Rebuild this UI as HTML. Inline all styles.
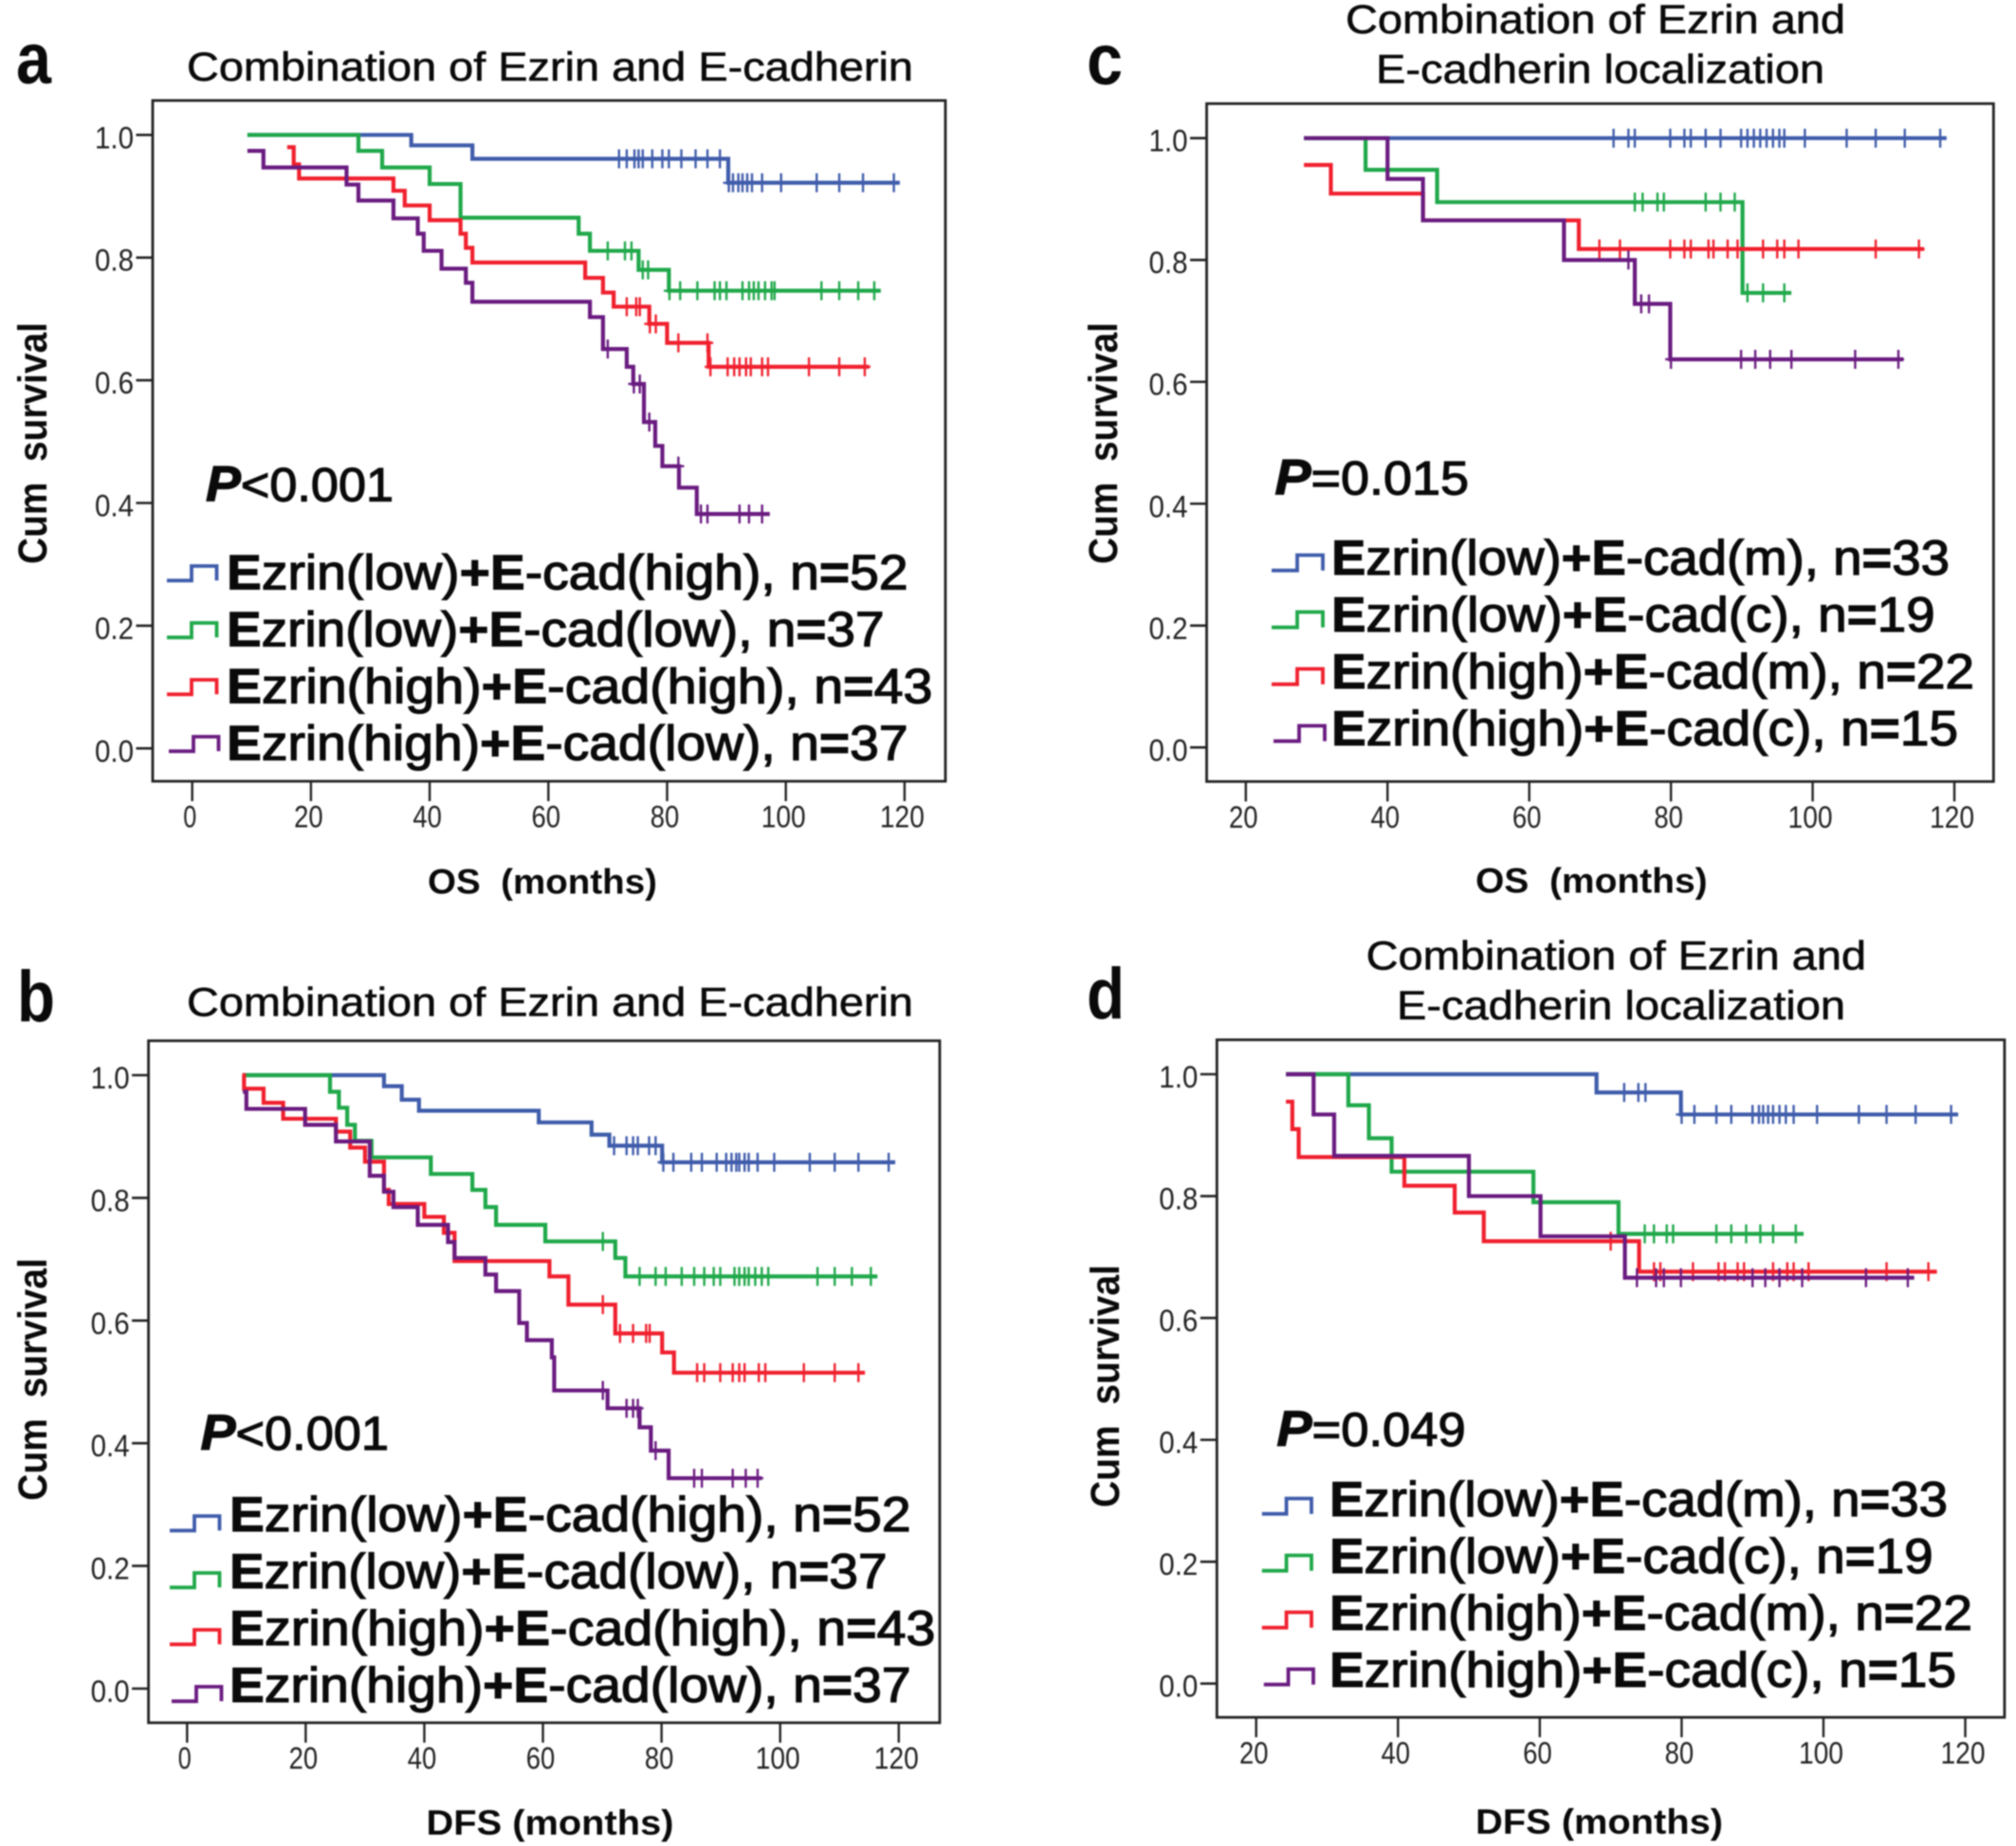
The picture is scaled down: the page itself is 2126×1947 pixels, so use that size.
<!DOCTYPE html>
<html lang="en">
<head>
<meta charset="utf-8">
<title>Kaplan-Meier survival curves for Ezrin and E-cadherin</title>
<style>
html,body{margin:0;padding:0;background:#fff;}
#figure{display:block;width:2126px;height:1947px;filter:blur(0.8px);}
text{font-family:"Liberation Sans",Arial,sans-serif;fill:#0a0a0a;}
.letter{font-weight:700;font-size:76px;}
.title{font-size:43px;stroke:#0a0a0a;stroke-width:0.6px;}
.legend{font-size:52px;font-weight:400;stroke:#0a0a0a;stroke-width:1.3px;}
.legend .hv{font-weight:700;stroke-width:1px;}
.pval{font-size:50px;font-weight:400;stroke:#0a0a0a;stroke-width:1.2px;}
.pval .it{font-style:italic;font-weight:700;font-size:53px;}
.xtitle{font-size:37px;font-weight:700;}
.ytitle{font-size:43px;font-weight:700;}
.tick{font-size:32px;fill:#222;}
.frame{fill:none;stroke:#222;stroke-width:2.8;}
.icon{fill:none;stroke-width:3.8;}
</style>
</head>
<body>
<svg id="figure" xmlns="http://www.w3.org/2000/svg" width="2126" height="1947" viewBox="0 0 2126 1947">
<rect x="0" y="0" width="2126" height="1947" fill="#fff"/>

<g id="panel-a">
<text class="letter" x="17" y="88" textLength="37" lengthAdjust="spacingAndGlyphs">a</text>
<text class="title" x="197" y="85" textLength="766" lengthAdjust="spacingAndGlyphs">Combination of Ezrin and E-cadherin</text>
<rect class="frame" x="161" y="106" width="836" height="718"/>
<text class="ytitle" transform="translate(49,595) rotate(-90)" x="0" y="0" textLength="255" lengthAdjust="spacingAndGlyphs" xml:space="preserve">Cum  survival</text>
<text class="xtitle" x="451" y="942.7" textLength="242" lengthAdjust="spacingAndGlyphs" xml:space="preserve">OS  (months)</text>
<text class="pval" x="217" y="528.3" textLength="198" lengthAdjust="spacingAndGlyphs"><tspan class="it">P</tspan><tspan>&lt;0.001</tspan></text>
<g>
<polyline class="icon" stroke="#3f5cab" points="176,612.3 202,612.3 202,597 228.5,597 228.5,612.3"/>
<text class="legend" x="239" y="621.7" textLength="718.6" lengthAdjust="spacingAndGlyphs"><tspan class="hv">E</tspan>zrin(low)<tspan class="hv">+E</tspan>-cad(high), n<tspan class="hv">=</tspan>52</text>
<polyline class="icon" stroke="#1fa84a" points="176,672.3 202,672.3 202,657 228.5,657 228.5,672.3"/>
<text class="legend" x="239" y="681.7" textLength="693.6" lengthAdjust="spacingAndGlyphs"><tspan class="hv">E</tspan>zrin(low)<tspan class="hv">+E</tspan>-cad(low), n<tspan class="hv">=</tspan>37</text>
<polyline class="icon" stroke="#f0202e" points="176,732.3 202,732.3 202,717 228.5,717 228.5,732.3"/>
<text class="legend" x="239" y="741.7" textLength="744.4" lengthAdjust="spacingAndGlyphs"><tspan class="hv">E</tspan>zrin(high)<tspan class="hv">+E</tspan>-cad(high), n<tspan class="hv">=</tspan>43</text>
<polyline class="icon" stroke="#6a1b80" points="178,792.3 204,792.3 204,777 230.5,777 230.5,792.3"/>
<text class="legend" x="239" y="801.7" textLength="718.6" lengthAdjust="spacingAndGlyphs"><tspan class="hv">E</tspan>zrin(high)<tspan class="hv">+E</tspan>-cad(low), n<tspan class="hv">=</tspan>37</text>
</g>
</g>

<g id="panel-b">
<text class="letter" x="18" y="1077" textLength="40" lengthAdjust="spacingAndGlyphs">b</text>
<text class="title" x="197" y="1071.7" textLength="766" lengthAdjust="spacingAndGlyphs">Combination of Ezrin and E-cadherin</text>
<rect class="frame" x="156.6" y="1097.7" width="834.4" height="719.3"/>
<text class="ytitle" transform="translate(49,1582.7) rotate(-90)" x="0" y="0" textLength="255.7" lengthAdjust="spacingAndGlyphs" xml:space="preserve">Cum  survival</text>
<text class="xtitle" x="449.5" y="1935" textLength="261" lengthAdjust="spacingAndGlyphs" xml:space="preserve">DFS (months)</text>
<text class="pval" x="211.5" y="1529" textLength="198.5" lengthAdjust="spacingAndGlyphs"><tspan class="it">P</tspan><tspan>&lt;0.001</tspan></text>
<g>
<polyline class="icon" stroke="#3f5cab" points="179,1614.3 205,1614.3 205,1599 231.5,1599 231.5,1614.3"/>
<text class="legend" x="242" y="1615" textLength="718.6" lengthAdjust="spacingAndGlyphs"><tspan class="hv">E</tspan>zrin(low)<tspan class="hv">+E</tspan>-cad(high), n<tspan class="hv">=</tspan>52</text>
<polyline class="icon" stroke="#1fa84a" points="179,1674.3 205,1674.3 205,1659 231.5,1659 231.5,1674.3"/>
<text class="legend" x="242" y="1675" textLength="693.6" lengthAdjust="spacingAndGlyphs"><tspan class="hv">E</tspan>zrin(low)<tspan class="hv">+E</tspan>-cad(low), n<tspan class="hv">=</tspan>37</text>
<polyline class="icon" stroke="#f0202e" points="179,1734.3 205,1734.3 205,1719 231.5,1719 231.5,1734.3"/>
<text class="legend" x="242" y="1735" textLength="744.4" lengthAdjust="spacingAndGlyphs"><tspan class="hv">E</tspan>zrin(high)<tspan class="hv">+E</tspan>-cad(high), n<tspan class="hv">=</tspan>43</text>
<polyline class="icon" stroke="#6a1b80" points="181,1794.3 207,1794.3 207,1779 233.5,1779 233.5,1794.3"/>
<text class="legend" x="242" y="1795" textLength="718.6" lengthAdjust="spacingAndGlyphs"><tspan class="hv">E</tspan>zrin(high)<tspan class="hv">+E</tspan>-cad(low), n<tspan class="hv">=</tspan>37</text>
</g>
</g>

<g id="panel-c">
<text class="letter" x="1146" y="89" textLength="38" lengthAdjust="spacingAndGlyphs">c</text>
<text class="title" x="1419" y="35" textLength="527" lengthAdjust="spacingAndGlyphs">Combination of Ezrin and</text>
<text class="title" x="1451" y="87.3" textLength="473" lengthAdjust="spacingAndGlyphs">E-cadherin localization</text>
<rect class="frame" x="1272.5" y="109.3" width="829.8" height="715"/>
<text class="ytitle" transform="translate(1178,595) rotate(-90)" x="0" y="0" textLength="255" lengthAdjust="spacingAndGlyphs" xml:space="preserve">Cum  survival</text>
<text class="xtitle" x="1556" y="941.7" textLength="244.6" lengthAdjust="spacingAndGlyphs" xml:space="preserve">OS  (months)</text>
<text class="pval" x="1344.4" y="521.7" textLength="204.6" lengthAdjust="spacingAndGlyphs"><tspan class="it">P</tspan><tspan>=0.015</tspan></text>
<g>
<polyline class="icon" stroke="#3f5cab" points="1341,601.7 1368,601.7 1368,585.5 1395,585.5 1395,601.7"/>
<text class="legend" x="1404" y="606" textLength="652" lengthAdjust="spacingAndGlyphs"><tspan class="hv">E</tspan>zrin(low)<tspan class="hv">+E</tspan>-cad(m), n<tspan class="hv">=</tspan>33</text>
<polyline class="icon" stroke="#1fa84a" points="1341,661.7 1368,661.7 1368,645.5 1395,645.5 1395,661.7"/>
<text class="legend" x="1404" y="666" textLength="636.6" lengthAdjust="spacingAndGlyphs"><tspan class="hv">E</tspan>zrin(low)<tspan class="hv">+E</tspan>-cad(c), n<tspan class="hv">=</tspan>19</text>
<polyline class="icon" stroke="#f0202e" points="1341,721.7 1368,721.7 1368,705.5 1395,705.5 1395,721.7"/>
<text class="legend" x="1404" y="726" textLength="678" lengthAdjust="spacingAndGlyphs"><tspan class="hv">E</tspan>zrin(high)<tspan class="hv">+E</tspan>-cad(m), n<tspan class="hv">=</tspan>22</text>
<polyline class="icon" stroke="#6a1b80" points="1343,781.7 1370,781.7 1370,765.5 1397,765.5 1397,781.7"/>
<text class="legend" x="1404" y="786" textLength="661" lengthAdjust="spacingAndGlyphs"><tspan class="hv">E</tspan>zrin(high)<tspan class="hv">+E</tspan>-cad(c), n<tspan class="hv">=</tspan>15</text>
</g>
</g>

<g id="panel-d">
<text class="letter" x="1146" y="1074" textLength="40" lengthAdjust="spacingAndGlyphs">d</text>
<text class="title" x="1440.6" y="1022.3" textLength="527.4" lengthAdjust="spacingAndGlyphs">Combination of Ezrin and</text>
<text class="title" x="1473" y="1075" textLength="473" lengthAdjust="spacingAndGlyphs">E-cadherin localization</text>
<rect class="frame" x="1283.3" y="1096.7" width="830.6" height="714.6"/>
<text class="ytitle" transform="translate(1180,1590) rotate(-90)" x="0" y="0" textLength="256" lengthAdjust="spacingAndGlyphs" xml:space="preserve">Cum  survival</text>
<text class="xtitle" x="1556" y="1934" textLength="261" lengthAdjust="spacingAndGlyphs" xml:space="preserve">DFS (months)</text>
<text class="pval" x="1346.4" y="1525" textLength="199.3" lengthAdjust="spacingAndGlyphs"><tspan class="it">P</tspan><tspan>=0.049</tspan></text>
<g>
<polyline class="icon" stroke="#3f5cab" points="1330.8,1596.7 1356.6,1596.7 1356.6,1580.5 1383,1580.5 1383,1596.7"/>
<text class="legend" x="1402" y="1599" textLength="652" lengthAdjust="spacingAndGlyphs"><tspan class="hv">E</tspan>zrin(low)<tspan class="hv">+E</tspan>-cad(m), n<tspan class="hv">=</tspan>33</text>
<polyline class="icon" stroke="#1fa84a" points="1330.8,1656.7 1356.6,1656.7 1356.6,1640.5 1383,1640.5 1383,1656.7"/>
<text class="legend" x="1402" y="1659" textLength="636.6" lengthAdjust="spacingAndGlyphs"><tspan class="hv">E</tspan>zrin(low)<tspan class="hv">+E</tspan>-cad(c), n<tspan class="hv">=</tspan>19</text>
<polyline class="icon" stroke="#f0202e" points="1330.8,1716.7 1356.6,1716.7 1356.6,1700.5 1383,1700.5 1383,1716.7"/>
<text class="legend" x="1402" y="1719" textLength="678" lengthAdjust="spacingAndGlyphs"><tspan class="hv">E</tspan>zrin(high)<tspan class="hv">+E</tspan>-cad(m), n<tspan class="hv">=</tspan>22</text>
<polyline class="icon" stroke="#6a1b80" points="1332.8,1776.7 1358.6,1776.7 1358.6,1760.5 1385,1760.5 1385,1776.7"/>
<text class="legend" x="1402" y="1779" textLength="661" lengthAdjust="spacingAndGlyphs"><tspan class="hv">E</tspan>zrin(high)<tspan class="hv">+E</tspan>-cad(c), n<tspan class="hv">=</tspan>15</text>
</g>
</g>
</svg>

<script>
// Tick labels
const yTickValues = [0, 0.2, 0.4, 0.6, 0.8, 1.0];
const xTicksFromZero = [0, 20, 40, 60, 80, 100, 120];
const xTicksFromTwenty = [20, 40, 60, 80, 100, 120];

// Each curve: times (level starts, then end of follow-up), survival levels, censoring times.
// Panel a
const aBlueTimes = [9.3, 36.9, 47.2, 90.3, 119.2];
const aBlueSurvival = [1.0, 0.983, 0.961, 0.922];
const aBlueCensored = [71.9, 73.2, 74.5, 75.2, 75.9, 77.5, 79.2, 80.3, 82.4, 84.8, 86.8, 88.9, 90.4, 91.1, 92, 92.7, 93.5, 94.3, 96, 99.2, 105.2, 109, 113, 118.2];
const aGreenTimes = [9.3, 28, 32, 40, 45.2, 65.1, 67, 75.2, 80.3, 116];
const aGreenSurvival = [1.0, 0.974, 0.947, 0.92, 0.865, 0.839, 0.811, 0.78, 0.746];
const aGreenCensored = [70, 72.9, 74, 75.9, 76.8, 80.4, 82.2, 85.1, 88, 88.9, 90, 92.7, 93.8, 94.6, 95.4, 96.5, 97.6, 98.1, 106, 109, 112.2, 114.9];
const aRedTimes = [16, 17.1, 18, 33.9, 35.8, 40, 45.2, 46.1, 47.2, 66.2, 69.2, 71, 77, 80, 87, 114];
const aRedSurvival = [0.98, 0.952, 0.929, 0.909, 0.885, 0.861, 0.839, 0.816, 0.792, 0.767, 0.743, 0.72, 0.692, 0.661, 0.622];
const aRedCensored = [73.2, 74.8, 75.4, 77.1, 78.1, 81.9, 86.8, 87.3, 90.2, 91.3, 92.2, 93.3, 94.1, 96, 97, 103.9, 109, 113.3];
const aPurpleTimes = [9.3, 12, 26, 28, 33.9, 38, 39, 42, 46.1, 47.2, 67, 69.2, 73.2, 74.3, 76.1, 78, 79.2, 82, 85, 97.3];
const aPurpleSurvival = [0.974, 0.947, 0.919, 0.893, 0.864, 0.839, 0.811, 0.782, 0.759, 0.728, 0.703, 0.651, 0.622, 0.594, 0.532, 0.493, 0.46, 0.425, 0.382];
const aPurpleCensored = [70, 74.4, 75.4, 77, 81.9, 85.7, 86.8, 92.2, 93.8, 96];

// Panel b
const bBlueTimes = [9.4, 33.2, 36.2, 39.1, 59.3, 68.2, 71.2, 80.1, 119.4];
const bBlueSurvival = [1.0, 0.982, 0.96, 0.942, 0.923, 0.903, 0.885, 0.858];
const bBlueCensored = [72, 74.1, 75.2, 76, 77.9, 79, 80.3, 82, 85, 86.8, 89.3, 90.9, 91.8, 92.6, 93.1, 94, 94.7, 96.2, 99, 105, 109.2, 113.2, 118.3];
const bGreenTimes = [9.4, 24.1, 25.6, 27, 28.3, 31.1, 41.1, 48.1, 50.3, 52.1, 60.4, 72.2, 73.9, 116.4];
const bGreenSurvival = [1.0, 0.973, 0.947, 0.919, 0.893, 0.866, 0.839, 0.813, 0.785, 0.756, 0.729, 0.702, 0.672];
const bGreenCensored = [70.1, 76.3, 79, 80.7, 83.4, 85.5, 87.2, 88.8, 89.9, 92.3, 93.1, 94, 94.7, 95.8, 96.9, 98, 106.3, 109.2, 112.1, 115.3];
const bRedTimes = [9.3, 9.6, 12.9, 16.2, 25.1, 27.5, 30, 33.2, 34, 40, 43.3, 45.1, 61.1, 64.3, 72.2, 80.1, 82.1, 114.3];
const bRedSurvival = [1.0, 0.978, 0.955, 0.929, 0.908, 0.882, 0.859, 0.813, 0.79, 0.769, 0.743, 0.697, 0.672, 0.626, 0.579, 0.548, 0.515];
const bRedCensored = [70.1, 73, 75.2, 77.4, 78, 86, 87.2, 89.9, 92, 93.1, 94, 96.4, 97.5, 104, 109.2, 113.2];
const bPurpleTimes = [9.4, 10, 19.9, 25.1, 30.8, 33.2, 34.8, 38.9, 44, 45.1, 50.3, 52.1, 56, 57.3, 61.5, 61.9, 70.9, 76.3, 78.2, 81.2, 96.9];
const bPurpleSurvival = [0.973, 0.945, 0.919, 0.892, 0.836, 0.81, 0.785, 0.756, 0.728, 0.702, 0.675, 0.648, 0.596, 0.568, 0.54, 0.486, 0.457, 0.426, 0.388, 0.343];
const bPurpleCensored = [70.1, 74.1, 75.2, 76, 79, 85.5, 86.8, 92, 94.2, 96.2];

// Panel c
const cBlueTimes = [28.2, 118.9];
const cBlueSurvival = [1.0];
const cBlueCensored = [71.9, 74, 74.9, 79.9, 81.9, 82.8, 84.9, 87, 89.9, 90.8, 91.7, 92.6, 93.5, 94.4, 95.3, 96, 98.9, 104.8, 108.9, 113, 118];
const cGreenTimes = [28.2, 36.9, 47, 90.1, 97];
const cGreenSurvival = [1.0, 0.948, 0.895, 0.746];
const cGreenCensored = [74.9, 76, 78.1, 79, 84.9, 87, 89, 90.8, 93, 96];
const cRedTimes = [28.2, 32, 45, 67, 115.7];
const cRedSurvival = [0.956, 0.909, 0.865, 0.818];
const cRedCensored = [69.9, 72.8, 79.9, 81.9, 82.8, 85.3, 86, 88, 89.4, 93, 95, 96, 98, 108.9, 115];
const cPurpleTimes = [28.2, 40, 45, 64.9, 74.9, 79.9, 112.8];
const cPurpleSurvival = [1.0, 0.933, 0.865, 0.8, 0.728, 0.637];
const cPurpleCensored = [74, 75.8, 76.9, 80, 89.9, 91.9, 94, 97, 106, 112.1];

// Panel d
const dBlueTimes = [24.2, 68, 79.9, 119];
const dBlueSurvival = [1.0, 0.97, 0.934];
const dBlueCensored = [71.9, 73.9, 74.9, 80, 81.8, 84.9, 87, 90, 90.9, 91.5, 92.2, 92.9, 93.8, 94.7, 95.8, 99.1, 105, 108.9, 113, 118];
const dGreenTimes = [24.2, 33, 35.9, 39.1, 59.1, 71.1, 97.2];
const dGreenSurvival = [1.0, 0.949, 0.895, 0.84, 0.79, 0.738];
const dGreenCensored = [74.8, 76.1, 77.9, 78.8, 84.9, 87, 89.1, 91.1, 92.9, 96.1];
const dRedTimes = [24.2, 25.1, 26, 40.9, 48, 52.1, 74, 116];
const dRedSurvival = [0.955, 0.91, 0.864, 0.817, 0.773, 0.726, 0.676];
const dRedCensored = [70, 76.1, 77, 81.6, 85.2, 86.1, 87.9, 88.8, 92.9, 94.9, 95.8, 97.9, 108.9, 114.8];
const dPurpleTimes = [24.2, 28.1, 31, 50, 60.1, 72, 112.8];
const dPurpleSurvival = [1.0, 0.934, 0.866, 0.8, 0.734, 0.666];
const dPurpleCensored = [73.7, 76.4, 77.5, 79.9, 90, 91.8, 93.8, 97, 106, 111.9];

const SVG_NS = 'http://www.w3.org/2000/svg';
const BLUE = '#3f5cab', GREEN = '#1fa84a', RED = '#f0202e', PURPLE = '#6a1b80';

function linearScale(d0, d1, p0, p1) {
  return function (v) { return p0 + (v - d0) * (p1 - p0) / (d1 - d0); };
}

function levelAt(times, survival, t) {
  let level = survival[0];
  for (let i = 0; i < survival.length; i++) {
    if (t >= times[i]) level = survival[i];
  }
  return level;
}

function drawAxes(group, id, xTicks, xScale, yScale, frameLeft, frameBottom) {
  yTickValues.forEach(function (v) {
    const y = yScale(v);
    const line = document.createElementNS(SVG_NS, 'line');
    
    
    line.setAttribute('x1', frameLeft - 17.5);
    line.setAttribute('x2', frameLeft);
    line.setAttribute('y1', y);
    line.setAttribute('y2', y);
    line.setAttribute('stroke', '#222');
    line.setAttribute('stroke-width', '2.6');
    group.appendChild(line);
    const label = document.createElementNS(SVG_NS, 'text');
    
    
    label.setAttribute('class', 'tick');
    label.setAttribute('x', frameLeft - 61);
    label.setAttribute('y', y + 14);
    label.setAttribute('textLength', '41');
    label.setAttribute('lengthAdjust', 'spacingAndGlyphs');
    label.textContent = v.toFixed(1);
    group.appendChild(label);
  });
  xTicks.forEach(function (v) {
    const x = xScale(v);
    const line = document.createElementNS(SVG_NS, 'line');
    
    
    line.setAttribute('x1', x);
    line.setAttribute('x2', x);
    line.setAttribute('y1', frameBottom);
    line.setAttribute('y2', frameBottom + 21);
    line.setAttribute('stroke', '#222');
    line.setAttribute('stroke-width', '2.4');
    group.appendChild(line);
    const text = String(v);
    const width = 16.5 * text.length - 2.5;
    const label = document.createElementNS(SVG_NS, 'text');
    
    
    label.setAttribute('class', 'tick');
    label.setAttribute('x', x - 2.5 - width / 2);
    label.setAttribute('y', frameBottom + 48.7);
    label.setAttribute('textLength', width);
    label.setAttribute('lengthAdjust', 'spacingAndGlyphs');
    label.textContent = text;
    group.appendChild(label);
  });
}

function drawCurve(group, seriesName, color, times, survival, censored, xScale, yScale) {
  let d = 'M' + xScale(times[0]) + ' ' + yScale(survival[0]);
  for (let i = 1; i < times.length; i++) {
    d += 'H' + xScale(times[i]);
    if (i < survival.length) d += 'V' + yScale(survival[i]);
  }
  const path = document.createElementNS(SVG_NS, 'path');
  
  
  path.setAttribute('d', d);
  path.setAttribute('fill', 'none');
  path.setAttribute('stroke', color);
  path.setAttribute('stroke-width', '4.2');
  group.appendChild(path);
  censored.forEach(function (t) {
    const x = xScale(t);
    const y = yScale(levelAt(times, survival, t));
    const mark = document.createElementNS(SVG_NS, 'path');
    
    
    mark.setAttribute('d', 'M' + x + ' ' + (y - 10) + 'V' + (y + 10) + 'M' + (x - 6) + ' ' + y + 'H' + (x + 6));
    mark.setAttribute('fill', 'none');
    mark.setAttribute('stroke', color);
    mark.setAttribute('stroke-width', '2.4');
    group.appendChild(mark);
  });
}

function drawPanel(id, xTicks, xScale, yScale, frameLeft, frameBottom, curves) {
  const group = document.getElementById('panel-' + id);
  drawAxes(group, id, xTicks, xScale, yScale, frameLeft, frameBottom);
  curves.forEach(function (c) {
    drawCurve(group, c[0] + '-' + id, c[1], c[2], c[3], c[4], xScale, yScale);
  });
}

drawPanel('a', xTicksFromZero, linearScale(0, 120, 202.7, 953.9), linearScale(0, 1, 789.3, 142.3), 161, 824, [
  ['blue', BLUE, aBlueTimes, aBlueSurvival, aBlueCensored],
  ['green', GREEN, aGreenTimes, aGreenSurvival, aGreenCensored],
  ['red', RED, aRedTimes, aRedSurvival, aRedCensored],
  ['purple', PURPLE, aPurpleTimes, aPurpleSurvival, aPurpleCensored]
]);
drawPanel('b', xTicksFromZero, linearScale(0, 120, 197.3, 947.8), linearScale(0, 1, 1781, 1134), 156.6, 1817, [
  ['blue', BLUE, bBlueTimes, bBlueSurvival, bBlueCensored],
  ['green', GREEN, bGreenTimes, bGreenSurvival, bGreenCensored],
  ['red', RED, bRedTimes, bRedSurvival, bRedCensored],
  ['purple', PURPLE, bPurpleTimes, bPurpleSurvival, bPurpleCensored]
]);
drawPanel('c', xTicksFromTwenty, linearScale(20, 120, 1313.8, 2061), linearScale(0, 1, 788.3, 145.7), 1272.5, 824.3, [
  ['blue', BLUE, cBlueTimes, cBlueSurvival, cBlueCensored],
  ['green', GREEN, cGreenTimes, cGreenSurvival, cGreenCensored],
  ['red', RED, cRedTimes, cRedSurvival, cRedCensored],
  ['purple', PURPLE, cPurpleTimes, cPurpleSurvival, cPurpleCensored]
]);
drawPanel('d', xTicksFromTwenty, linearScale(20, 120, 1324.7, 2072.5), linearScale(0, 1, 1775.7, 1133), 1283.3, 1811.3, [
  ['blue', BLUE, dBlueTimes, dBlueSurvival, dBlueCensored],
  ['green', GREEN, dGreenTimes, dGreenSurvival, dGreenCensored],
  ['red', RED, dRedTimes, dRedSurvival, dRedCensored],
  ['purple', PURPLE, dPurpleTimes, dPurpleSurvival, dPurpleCensored]
]);
</script>
</body>
</html>
